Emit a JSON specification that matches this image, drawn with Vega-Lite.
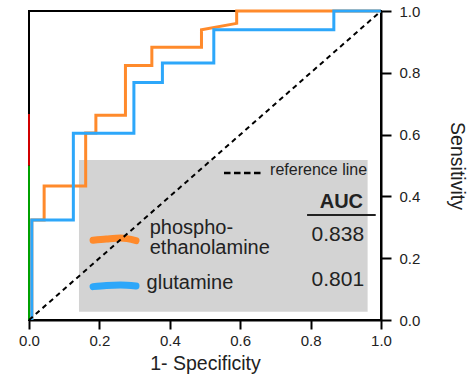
{
  "$schema": "https://vega.github.io/schema/vega-lite/v6.json",
  "width": 352,
  "height": 309,
  "autosize": {"type": "none"},
  "padding": {"left": 29, "top": 11, "right": 94, "bottom": 58},
  "background": "white",
  "config": {
    "font": "Liberation Sans",
    "view": {"stroke": "black", "strokeWidth": 2},
    "axis": {"grid": false, "labelFlush": false, "domainColor": "black", "domainWidth": 2, "tickColor": "black", "tickWidth": 2, "tickSize": 9, "labelFont": "Liberation Sans", "labelFontSize": 15, "labelColor": "#222", "titleFont": "Liberation Sans", "titleFontSize": 19.5, "titleFontWeight": "normal", "titleColor": "#222"}
  },
  "layer": [
    {
      "data": {"values": [{"x": 0.142, "x2": 0.962, "y": 0.027, "y2": 0.518}]},
      "mark": {"type": "rect", "color": "#D3D3D3"},
      "encoding": {
        "x": {"field": "x", "type": "quantitative", "scale": {"domain": [0, 1], "nice": false}, "axis": {"title": "1- Specificity", "values": [0, 0.2, 0.4, 0.6, 0.8, 1], "format": ".1f", "labelPadding": 4, "titlePadding": 6}},
        "x2": {"field": "x2"},
        "y": {"field": "y", "type": "quantitative", "scale": {"domain": [0, 1], "nice": false}, "axis": {"title": "Sensitivity", "orient": "right", "values": [0, 0.2, 0.4, 0.6, 0.8, 1], "format": ".1f", "labelPadding": 8, "tickSize": 10, "titleAngle": 90, "titlePadding": 27}},
        "y2": {"field": "y2"}
      }
    },
    {
      "data": {"values": [
        {"x": 0, "y": 0, "x2": 0, "y2": 0.5, "seg": "g"},
        {"x": 0, "y": 0.5, "x2": 0, "y2": 0.667, "seg": "r"}
      ]},
      "mark": {"type": "rule", "strokeWidth": 2},
      "encoding": {
        "x": {"field": "x", "type": "quantitative"},
        "y": {"field": "y", "type": "quantitative"},
        "x2": {"field": "x2"},
        "y2": {"field": "y2"},
        "color": {"field": "seg", "type": "nominal", "scale": {"domain": ["g", "r"], "range": ["#00A000", "#D00000"]}, "legend": null}
      }
    },
    {
      "data": {"values": [
        {"series": "phospho-ethanolamine", "i": 0, "x": 0.182, "y": 0.258},
        {"series": "phospho-ethanolamine", "i": 1, "x": 0.22, "y": 0.262},
        {"series": "phospho-ethanolamine", "i": 2, "x": 0.26, "y": 0.265},
        {"series": "phospho-ethanolamine", "i": 3, "x": 0.304, "y": 0.257},
        {"series": "glutamine", "i": 0, "x": 0.182, "y": 0.108},
        {"series": "glutamine", "i": 1, "x": 0.22, "y": 0.112},
        {"series": "glutamine", "i": 2, "x": 0.26, "y": 0.113},
        {"series": "glutamine", "i": 3, "x": 0.304, "y": 0.11}
      ]},
      "mark": {"type": "line", "strokeWidth": 7, "strokeCap": "round", "interpolate": "monotone"},
      "encoding": {
        "x": {"field": "x", "type": "quantitative"},
        "y": {"field": "y", "type": "quantitative"},
        "detail": {"field": "series"},
        "order": {"field": "i"},
        "stroke": {"field": "series", "type": "nominal", "scale": {"domain": ["phospho-ethanolamine", "glutamine"], "range": ["#FF8A2B", "#2DA7FA"]}, "legend": null}
      }
    },
    {
      "data": {"values": [
        {"series": "phospho-ethanolamine", "i": 0, "x": 0.008, "y": 0},
        {"series": "phospho-ethanolamine", "i": 1, "x": 0.008, "y": 0.324},
        {"series": "phospho-ethanolamine", "i": 2, "x": 0.043, "y": 0.324},
        {"series": "phospho-ethanolamine", "i": 3, "x": 0.043, "y": 0.434},
        {"series": "phospho-ethanolamine", "i": 4, "x": 0.161, "y": 0.434},
        {"series": "phospho-ethanolamine", "i": 5, "x": 0.161, "y": 0.605},
        {"series": "phospho-ethanolamine", "i": 6, "x": 0.19, "y": 0.605},
        {"series": "phospho-ethanolamine", "i": 7, "x": 0.19, "y": 0.663},
        {"series": "phospho-ethanolamine", "i": 8, "x": 0.274, "y": 0.663},
        {"series": "phospho-ethanolamine", "i": 9, "x": 0.274, "y": 0.824},
        {"series": "phospho-ethanolamine", "i": 10, "x": 0.349, "y": 0.824},
        {"series": "phospho-ethanolamine", "i": 11, "x": 0.349, "y": 0.883},
        {"series": "phospho-ethanolamine", "i": 12, "x": 0.49, "y": 0.883},
        {"series": "phospho-ethanolamine", "i": 13, "x": 0.49, "y": 0.939},
        {"series": "phospho-ethanolamine", "i": 14, "x": 0.59, "y": 0.96},
        {"series": "phospho-ethanolamine", "i": 15, "x": 0.59, "y": 1},
        {"series": "phospho-ethanolamine", "i": 16, "x": 1, "y": 1},
        {"series": "glutamine", "i": 0, "x": 0.008, "y": 0},
        {"series": "glutamine", "i": 1, "x": 0.008, "y": 0.324},
        {"series": "glutamine", "i": 2, "x": 0.126, "y": 0.324},
        {"series": "glutamine", "i": 3, "x": 0.126, "y": 0.604},
        {"series": "glutamine", "i": 4, "x": 0.298, "y": 0.604},
        {"series": "glutamine", "i": 5, "x": 0.298, "y": 0.769},
        {"series": "glutamine", "i": 6, "x": 0.379, "y": 0.769},
        {"series": "glutamine", "i": 7, "x": 0.379, "y": 0.832},
        {"series": "glutamine", "i": 8, "x": 0.525, "y": 0.832},
        {"series": "glutamine", "i": 9, "x": 0.525, "y": 0.939},
        {"series": "glutamine", "i": 10, "x": 0.866, "y": 0.939},
        {"series": "glutamine", "i": 11, "x": 0.866, "y": 1},
        {"series": "glutamine", "i": 12, "x": 1, "y": 1}
      ]},
      "mark": {"type": "line", "strokeWidth": 3, "strokeJoin": "miter", "clip": false},
      "encoding": {
        "x": {"field": "x", "type": "quantitative"},
        "y": {"field": "y", "type": "quantitative"},
        "detail": {"field": "series"},
        "order": {"field": "i"},
        "stroke": {"field": "series", "type": "nominal", "legend": null}
      }
    },
    {
      "data": {"values": [
        {"x": 0, "y": 0, "x2": 1, "y2": 1, "w": "diag"}
      ]},
      "mark": {"type": "rule", "strokeWidth": 2, "strokeDash": [5, 4], "color": "black"},
      "encoding": {
        "x": {"field": "x", "type": "quantitative"},
        "y": {"field": "y", "type": "quantitative"},
        "x2": {"field": "x2"},
        "y2": {"field": "y2"}
      }
    },
    {
      "data": {"values": [
        {"x": 0.554, "y": 0.476, "x2": 0.661, "y2": 0.476}
      ]},
      "mark": {"type": "rule", "strokeWidth": 2.5, "strokeDash": [6.5, 3.5], "color": "black"},
      "encoding": {
        "x": {"field": "x", "type": "quantitative"},
        "y": {"field": "y", "type": "quantitative"},
        "x2": {"field": "x2"},
        "y2": {"field": "y2"}
      }
    },
    {
      "data": {"values": [
        {"x": 0.79, "y": 0.34, "x2": 0.985, "y2": 0.34}
      ]},
      "mark": {"type": "rule", "strokeWidth": 2, "color": "#222"},
      "encoding": {
        "x": {"field": "x", "type": "quantitative"},
        "y": {"field": "y", "type": "quantitative"},
        "x2": {"field": "x2"},
        "y2": {"field": "y2"}
      }
    },
    {
      "data": {"values": [
        {"x": 0.685, "y": 0.485, "label": "reference line"}
      ]},
      "mark": {"type": "text", "align": "left", "baseline": "middle", "fontSize": 16, "color": "#222"},
      "encoding": {
        "x": {"field": "x", "type": "quantitative"},
        "y": {"field": "y", "type": "quantitative"},
        "text": {"field": "label"}
      }
    },
    {
      "data": {"values": [
        {"x": 0.343, "y": 0.297, "label": "phospho-"},
        {"x": 0.343, "y": 0.232, "label": "ethanolamine"},
        {"x": 0.334, "y": 0.119, "label": "glutamine"}
      ]},
      "mark": {"type": "text", "align": "left", "baseline": "middle", "fontSize": 20, "color": "#222"},
      "encoding": {
        "x": {"field": "x", "type": "quantitative"},
        "y": {"field": "y", "type": "quantitative"},
        "text": {"field": "label"}
      }
    },
    {
      "data": {"values": [
        {"x": 0.952, "y": 0.275, "label": "0.838"},
        {"x": 0.952, "y": 0.129, "label": "0.801"}
      ]},
      "mark": {"type": "text", "align": "right", "baseline": "middle", "fontSize": 21, "color": "#222"},
      "encoding": {
        "x": {"field": "x", "type": "quantitative"},
        "y": {"field": "y", "type": "quantitative"},
        "text": {"field": "label"}
      }
    },
    {
      "data": {"values": [
        {"x": 0.949, "y": 0.383, "label": "AUC"}
      ]},
      "mark": {"type": "text", "align": "right", "baseline": "middle", "fontSize": 20, "fontWeight": "bold", "color": "#222"},
      "encoding": {
        "x": {"field": "x", "type": "quantitative"},
        "y": {"field": "y", "type": "quantitative"},
        "text": {"field": "label"}
      }
    }
  ]
}
